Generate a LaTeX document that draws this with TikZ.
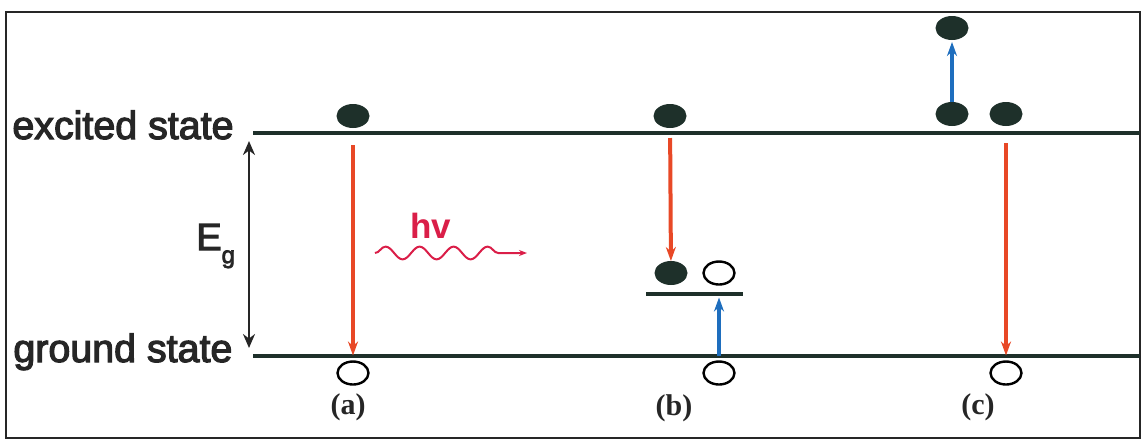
\documentclass[tikz,border=0pt]{standalone}
\usepackage{fontspec}
\setmainfont{Liberation Serif}
\setsansfont{Liberation Sans}
\newfontfamily\scansans[FakeBold=3]{Liberation Sans}
\usetikzlibrary{positioning,arrows.meta,shapes.geometric,decorations.pathmorphing}
\definecolor{lvlcol}{RGB}{30,48,42}
\definecolor{emitcol}{RGB}{232,72,38}
\definecolor{pumpcol}{RGB}{30,110,190}
\definecolor{hvcol}{RGB}{218,30,72}
\definecolor{txtcol}{RGB}{38,38,38}

\begin{document}
\begin{tikzpicture}[
  x=0.5pt, y=-0.5pt,
  txt/.style={font=\scansans\fontsize{19.7}{20}\selectfont, text=txtcol, inner sep=0pt},
  lbl/.style={font=\rmfamily\bfseries\fontsize{15}{15}\selectfont, text=txtcol, inner sep=0pt},
  frm/.style={draw=black!85, line width=1.4pt},
  lvl/.style={draw=lvlcol, line width=2pt},
  ele/.style={ellipse, fill=lvlcol, minimum width=16.5pt, minimum height=12pt, inner sep=0pt, outer sep=0pt},
  hol/.style={ellipse, draw=black, line width=1.2pt, fill=white, minimum width=15.5pt, minimum height=11.5pt, inner sep=0pt, outer sep=0pt},
  emit/.style={draw=emitcol, line width=2pt, -{Stealth[length=7pt,width=5pt]}},
  pump/.style={draw=pumpcol, line width=2pt, -{Stealth[length=7pt,width=5pt]}},
  gap/.style={draw=black!85, line width=1.4pt, {Stealth[length=7pt,width=6pt]}-{Stealth[length=7pt,width=6pt]}},
  photon/.style={draw=hvcol, line width=1pt, decorate,
                 decoration={snake, amplitude=3.2pt, segment length=17pt, post length=14pt},
                 -{Stealth[length=4pt,width=3pt]}}
]
\useasboundingbox (0,0) rectangle (1147,441);
\draw[frm] (6,12) rectangle (1140,438);

\node[txt, anchor=base west] (exs) at (12,139) {excited state};
\node[txt, anchor=base west] (grs) at (13,362) {ground state};
\coordinate (ex0) at (253,133);
\coordinate (ex1) at (1140,133);
\coordinate (gr0) at (253,356);
\coordinate (gr1) at (1140,356);
\coordinate (tr0) at (646,294);
\coordinate (tr1) at (743,294);
\draw[lvl] (ex0) -- (ex1);
\draw[lvl] (gr0) -- (gr1);
\draw[lvl] (tr0) -- (tr1);

\coordinate (eg0) at (249,141);
\coordinate (eg1) at (249,348);
\draw[gap] (eg0) -- (eg1);
\node[txt, anchor=base west, font=\scansans\fontsize{18.9}{19}\selectfont] (eg) at (196,250)
  {E\raisebox{-0.35em}{\fontsize{12}{12}\selectfont g}};

\node[ele] (ea)  at (353,116) {};
\node[hol] (ha)  at (353,373) {};
\node[ele] (eb)  at (670,116) {};
\node[ele] (et)  at (671,273) {};
\node[hol] (ht)  at (719,273) {};
\node[hol] (hb)  at (719,373) {};
\node[ele] (ec1) at (952,28)  {};
\node[ele] (ec2) at (952,114) {};
\node[ele] (ec3) at (1006,114) {};
\node[hol] (hc)  at (1006,373) {};

\draw[emit, shorten <=8.5pt, shorten >=3pt] (ea) -- (ha);
\draw[emit, shorten <=5pt] (eb) -- (et);
\draw[pump, shorten <=3pt, shorten >=6.5pt] (hb) -- (ht);
\draw[pump, shorten >=1pt] (ec2) -- (ec1);
\draw[emit, shorten <=8.5pt, shorten >=3pt] (ec3) -- (hc);

\coordinate (p0) at (375,253);
\coordinate (p1) at (527,253);
\draw[photon] (p0) -- (p1);
\node[font=\sffamily\bfseries\fontsize{17.5}{18}\selectfont, text=hvcol, inner sep=0pt] (hv) at (431,226) {hv};

\node[lbl] (la) at (348,407) {(a)};
\node[lbl] (lb) at (674,408) {(b)};
\node[lbl] (lc) at (978,407) {(c)};
\end{tikzpicture}
\end{document}
